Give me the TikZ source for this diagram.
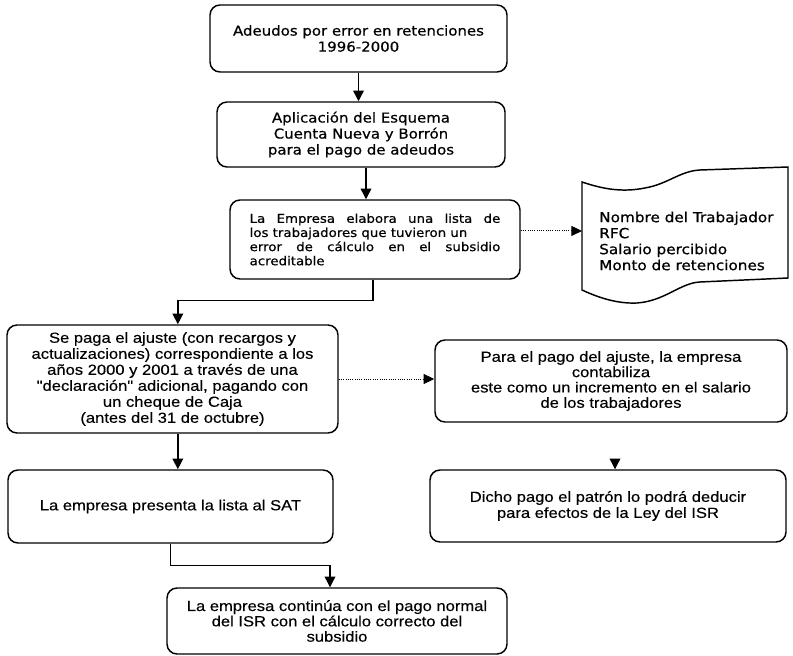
\documentclass[tikz,border=0pt]{standalone}
\usepackage{fontspec}
\usetikzlibrary{arrows.meta}
\newfontfamily\fa[FakeStretch=1.1,FakeBold=0.6]{DejaVu Sans}
\newfontfamily\fb[FakeStretch=1.13,FakeBold=0.3]{Liberation Sans}
\newcommand{\jline}[1]{\hbox to 188pt{#1}}
\begin{document}
\begin{tikzpicture}[x=0.75pt,y=-0.75pt,
  box/.style={draw, line width=1.1pt, rounded corners=7.5pt, inner sep=0pt, align=center},
  ta/.style={font=\fa\fontsize{10.2}{12}\selectfont},
  tb/.style={font=\fb\fontsize{11}{12}\selectfont},
  arr/.style={line width=1pt, -{Triangle[length=8pt,width=8pt]}},
  dotarr/.style={line width=0.7pt, densely dotted, -{Triangle[length=8pt,width=7.5pt]}},
]
\useasboundingbox (0,0) rectangle (793,656);

% top boxes
\node[box, ta, minimum width=222.75pt, minimum height=50.25pt] (b1) at (358.5,38.5)
  {Adeudos por error en retenciones\\1996-2000};
\node[box, ta, minimum width=216pt, minimum height=48.75pt] (b2) at (361,134.5)
  {Aplicación del Esquema\\Cuenta Nueva y Borrón\\para el pago de adeudos};
\node[box, font=\fa\fontsize{9.1}{10.6}\selectfont, align=left,
      minimum width=217.5pt, minimum height=59.25pt] (b3) at (375,239.5)
  {\jline{La \hfill Empresa \hfill elabora \hfill una \hfill lista \hfill de}\\
   \jline{los trabajadores que tuvieron un\hfil}\\
   \jline{error \hfill de \hfill cálculo \hfill en \hfill el \hfill subsidio}\\
   \jline{acreditable\hfil}};

% document shape
\draw[line width=1.1pt] (582,182) .. controls (600,188) and (620,193) .. (645,188)
  .. controls (668,184) and (680,171) .. (700,170) -- (788,167) -- (788,278)
  -- (700,282) .. controls (680,283) and (665,301) .. (637,303)
  .. controls (615,304) and (595,296) .. (582,290) -- cycle;
\coordinate (docin) at (582,231);
\node[font=\fa\fontsize{10.4}{12}\selectfont, anchor=west, align=left, inner sep=0pt] (doc) at (599,241)
  {Nombre del Trabajador\\RFC\\Salario percibido\\Monto de retenciones};

% lower boxes
\node[box, tb, minimum width=248.25pt, minimum height=81pt] (b4) at (172.5,379)
  {Se paga el ajuste (con recargos y\\actualizaciones) correspondiente a los\\años 2000 y 2001 a través de una\\"declaración" adicional, pagando con\\un cheque de Caja\\(antes del 31 de octubre)};
\node[box, tb, font=\fb\fontsize{11}{11.5}\selectfont, minimum width=264pt, minimum height=61.5pt] (b5) at (611,381)
  {Para el pago del ajuste, la empresa\\contabiliza\\este como un incremento en el salario\\de los trabajadores};
\node[box, tb, minimum width=243.75pt, minimum height=54.75pt] (b6) at (170.5,506.5)
  {La empresa presenta la lista al SAT};
\node[box, tb, minimum width=267pt, minimum height=54pt] (b7) at (608,506)
  {Dicho pago el patrón lo podrá deducir\\para efectos de la Ley del ISR};
\node[box, tb, font=\fb\fontsize{11}{11.5}\selectfont, minimum width=255pt, minimum height=49.5pt] (b8) at (337,621)
  {La empresa continúa con el pago normal\\del ISR con el cálculo correcto del\\subsidio};

% connectors
\draw[arr] (b1.south) -- (b1.south |- b2.north);
\draw[arr] ([xshift=3.75pt]b2.south) -- ([xshift=3.75pt]b2.south |- b3.north);
\draw[dotarr] ([yshift=6.4pt]b3.east) -- ([yshift=6.4pt]b3.east -| docin);
\draw[arr] ([xshift=-1.5pt]b3.south) -- ++(0,21) -| ([xshift=4pt]b4.north);
\draw[dotarr] (b4.east) -- (b4.east -| b5.west);
\draw[arr] ([xshift=4pt]b4.south) -- ([xshift=4pt]b4.south |- b6.north);
\draw[arr] ([xshift=5.25pt,yshift=8pt]b7.north) -- ([xshift=5.25pt]b7.north);
\draw[arr] (b6.south) -- ++(0,22) -| ([xshift=-5.25pt]b8.north);
\end{tikzpicture}
\end{document}
